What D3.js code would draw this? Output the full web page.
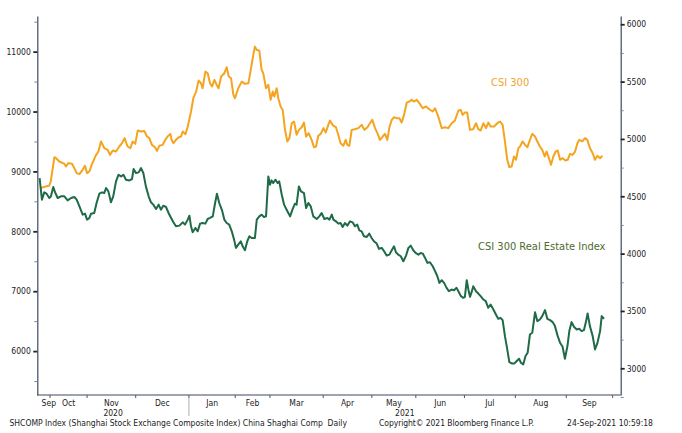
<!DOCTYPE html>
<html>
<head>
<meta charset="utf-8">
<script src="https://cdn.jsdelivr.net/npm/d3@7"></script>
<style>
  body { margin: 0; background: #fff; }
  svg text { font-family: "DejaVu Sans Condensed", "DejaVu Sans", sans-serif; font-stretch: condensed; white-space: pre; }
</style>
</head>
<body>
<svg id="chart"></svg>
<script>
// x axis: trading days, Sep 24 2020 = day 0
const monthNames = ["Sep", "Oct", "Nov", "Dec", "Jan", "Feb", "Mar", "Apr", "May", "Jun", "Jul", "Aug", "Sep"];
const monthTradingDays = [5, 16, 21, 23, 20, 15, 23, 21, 19, 21, 22, 22, 20];
const yearNames = ["2020", "2021"];
const firstMonthOfYear = [0, 4];

const leftTicks = [6000, 7000, 8000, 9000, 10000, 11000];
const leftMinor = [5500, 6500, 7500, 8500, 9500, 10500, 11500];
const rightTicks = [3000, 3500, 4000, 4500, 5000, 5500, 6000];
const rightMinor = [2750, 3250, 3750, 4250, 4750, 5250, 5750];

// CSI 300 (right axis)
const csiDay = [0.2,4.2,4.8,6.4,7.1,8.5,10.7,11.4,12.4,14.0,15.0,16.0,17.2,18.6,19.6,20.5,21.5,22.6,24.4,25.4,26.5,28.0,29.4,30.4,31.6,33.0,34.4,35.6,36.7,38.0,39.2,40.2,41.3,42.4,43.8,45.2,46.4,47.4,48.5,49.8,50.7,51.7,53.1,54.3,55.3,56.5,57.0,57.8,58.9,60.1,61.1,61.8,63.0,64.0,65.4,66.4,67.6,68.7,69.7,70.4,71.6,72.6,73.6,74.5,75.5,76.5,77.3,78.4,79.8,80.8,81.7,82.7,83.7,84.4,85.8,87.3,88.7,90.2,91.2,92.3,93.0,93.8,94.9,95.9,96.6,97.8,98.8,99.8,100.7,101.4,102.4,103.1,104.1,105.0,106.0,107.0,107.9,108.9,109.9,111.0,112.0,113.2,114.2,115.1,116.2,117.5,118.5,119.4,120.4,121.4,122.6,123.6,124.7,125.4,126.9,128.0,129.0,130.0,131.2,132.2,132.9,133.8,134.8,136.2,137.7,139.1,140.3,141.6,142.7,143.7,144.9,145.9,147.0,148.2,149.2,150.2,151.1,152.1,153.1,154.2,155.4,156.4,157.4,158.6,159.7,160.7,161.7,162.9,164.0,165.5,166.9,168.3,169.8,170.8,172.2,173.7,175.1,176.5,178.0,179.4,180.9,181.9,182.7,183.7,184.7,185.9,187.3,188.5,189.5,190.5,191.7,192.8,193.8,194.8,196.3,197.7,198.9,200.0,201.0,202.0,202.9,203.9,204.9,205.8,206.8,207.5,208.6,209.7,210.7,211.8,212.8,214.0,215.0,216.1,217.1,218.2,219.0,220.0,220.9,221.9,222.9,223.8,224.8,225.9,227.1,228.1,229.1,230.2,231.3,232.3,233.1,234.4,235.6,236.6,237.7,238.9,239.9,240.9,242.1,243.1];
const csiClose = [4571,4594,4629,4841,4832,4803,4783,4760,4789,4783,4745,4702,4693,4731,4766,4702,4716,4780,4861,4890,4978,4919,4905,4861,4899,4890,4934,4963,5007,4934,4920,4978,4957,5073,5065,5070,5021,5007,4948,4928,4896,4940,4948,4992,5021,5044,4992,4963,4992,5015,5021,5065,5041,5108,5239,5355,5413,5509,5486,5442,5587,5573,5486,5457,5515,5471,5442,5544,5573,5625,5544,5529,5384,5355,5442,5500,5480,5486,5602,5733,5805,5776,5770,5602,5573,5442,5471,5341,5413,5370,5442,5355,5282,5253,5079,4978,5007,5137,5152,5036,5079,5102,5143,5021,5050,4992,4928,4934,5027,5044,5094,5056,5123,5160,5114,5102,5036,4963,4940,4992,4948,4940,5079,5085,5094,5123,5079,5102,5137,5166,5094,5050,4992,5021,5044,4992,5102,5166,5189,5181,5181,5143,5210,5317,5326,5341,5326,5341,5312,5268,5283,5259,5239,5268,5195,5094,5102,5094,5137,5161,5248,5253,5210,5230,5230,5079,5085,5137,5085,5073,5137,5094,5143,5108,5108,5137,5152,5123,4978,4818,4754,4760,4847,4818,4920,4934,4978,4948,4928,4992,5044,5021,4978,4934,4905,4847,4890,4832,4774,4847,4890,4899,4818,4832,4812,4818,4870,4861,4890,4963,4992,4978,5007,4992,4920,4876,4818,4853,4832,4853];

// CSI 300 Real Estate Index (left axis)
const reDay = [0,1.0,2.0,3.0,4.2,4.9,5.9,6.8,7.8,9.2,10.7,12.1,13.6,15.0,16.0,17.2,18.6,19.6,20.5,21.5,22.2,23.6,24.6,25.8,26.9,27.9,28.7,29.7,30.8,31.8,33.0,34.1,35.2,36.2,37.3,38.8,39.9,40.6,41.6,42.8,43.8,44.8,45.9,47.1,48.1,49.1,50.3,51.4,52.4,53.4,54.6,55.7,56.8,57.8,58.9,60.4,61.8,62.8,64.0,64.7,65.4,66.1,67.3,68.3,69.3,70.4,71.6,72.6,73.6,74.8,75.8,76.6,77.6,78.8,79.8,80.8,81.9,83.0,84.0,84.8,85.8,86.9,87.7,88.7,89.7,90.6,91.6,93.0,93.8,94.9,95.9,96.9,97.8,98.8,99.5,100.2,100.9,101.9,102.8,103.5,104.6,105.6,106.7,108.2,109.2,110.3,111.0,112.0,112.9,114.2,115.1,116.1,117.1,118.2,119.7,120.8,121.8,123.0,124.3,125.2,126.2,126.9,128.0,129.0,130.0,130.9,131.9,132.9,134.1,135.2,136.2,137.2,138.1,139.1,140.1,141.3,142.4,143.4,144.4,145.6,146.6,147.8,148.8,149.9,151.1,152.1,153.1,153.9,154.9,156.0,157.1,158.3,159.3,160.3,161.4,162.4,163.6,164.6,165.5,166.5,167.5,168.6,169.8,170.8,171.8,172.7,173.7,174.7,175.8,176.8,178.0,179.0,180.1,181.1,182.0,183.0,183.7,184.5,185.2,185.9,186.6,187.3,188.5,189.5,190.5,191.7,192.7,193.8,194.8,196.0,197.1,198.1,199.1,200.0,201.0,202.0,202.9,203.9,205.1,206.1,207.1,207.9,208.9,209.9,210.8,211.8,212.8,214.0,215.0,216.1,217.1,218.3,219.3,220.5,221.6,222.6,223.8,224.8,225.9,226.9,228.0,228.8,229.8,230.8,232.0,233.1,234.1,235.1,235.9,236.7,237.7,238.9,239.9,240.9,242.1,242.8,243.8];
const reClose = [8889,8528,8650,8628,8556,8584,8739,8639,8556,8584,8584,8517,8556,8573,8528,8417,8278,8295,8195,8223,8295,8306,8473,8628,8650,8639,8723,8667,8484,8584,8834,8945,8917,8945,8862,8850,8873,9039,8973,8984,9056,8973,8750,8584,8484,8445,8373,8445,8361,8428,8406,8306,8223,8150,8084,8095,8150,8112,8195,8261,8084,7984,8056,8000,8128,8139,8128,8206,8223,8250,8473,8628,8473,8350,8195,8139,8112,8000,7861,7723,7778,7834,7750,7684,7834,7917,7889,7889,8195,8250,8278,8239,8250,8917,8778,8850,8806,8862,8806,8834,8611,8445,8361,8250,8361,8461,8445,8750,8667,8639,8389,8473,8417,8250,8206,8250,8306,8206,8223,8195,8278,8195,8167,8128,8139,8073,8139,8095,8167,8150,8084,8112,8017,8000,7917,7906,7961,7889,7834,7795,7706,7723,7667,7595,7611,7684,7750,7650,7611,7584,7500,7595,7723,7761,7684,7639,7611,7639,7628,7556,7473,7484,7417,7334,7250,7139,7184,7139,7056,7000,7028,7017,7056,6984,6917,6889,6906,7184,7028,6906,6984,7084,7000,6961,6917,6861,6834,6723,6778,6695,6612,6539,6556,6517,6250,6028,5817,5795,5795,5834,5873,5806,5778,5917,5972,6278,6306,6650,6500,6528,6584,6684,6539,6517,6484,6417,6250,6139,6072,5873,6084,6334,6484,6406,6361,6372,6334,6350,6472,6628,6417,6250,6028,6128,6334,6584,6539];

const footerLeft = "SHCOMP Index (Shanghai Stock Exchange Composite Index) China Shaghai Comp  Daily";
const footerMid = "Copyright\u00a9 2021 Bloomberg Finance L.P.";
const footerRight = "24-Sep-2021 10:59:18";

const width = 682, height = 433;
const margin = { top: 16, bottom: 38, left: 37.3, right: 61.3 };
const orange = "#f4a41f", green = "#1f6a47", axisColor = "#3d4a62";

const svg = d3.select("#chart").attr("width", width).attr("height", height);

const xScale = d3.scaleLinear().domain([-1, 251]).range([margin.left, width - margin.right]);
const yLeft = d3.scaleLinear().domain([5267, 11595]).range([height - margin.bottom, margin.top]);
const yRight = d3.scaleLinear().domain([2767, 6072]).range([height - margin.bottom, margin.top]);
const baseY = height - margin.bottom;
const fmt = d3.format("d");

// left axis
const leftG = svg.append("g").attr("transform", `translate(${margin.left},0)`)
  .call(d3.axisLeft(yLeft).tickValues(leftTicks).tickFormat(fmt).tickSize(4).tickSizeOuter(0).tickPadding(2.5));
svg.append("g").attr("transform", `translate(${margin.left},0)`)
  .call(d3.axisLeft(yLeft).tickValues(leftMinor).tickSize(3).tickSizeOuter(0).tickFormat(""))
  .call(g => g.select(".domain").remove())
  .call(g => g.selectAll("line").attr("stroke", "#7c869a"));

// right axis
const rightG = svg.append("g").attr("transform", `translate(${width - margin.right},0)`)
  .call(d3.axisRight(yRight).tickValues(rightTicks).tickFormat(fmt).tickSize(4).tickSizeOuter(0).tickPadding(2));
svg.append("g").attr("transform", `translate(${width - margin.right},0)`)
  .call(d3.axisRight(yRight).tickValues(rightMinor).tickSize(3).tickSizeOuter(0).tickFormat(""))
  .call(g => g.select(".domain").remove())
  .call(g => g.selectAll("line").attr("stroke", "#7c869a"));

[leftG, rightG].forEach(g => {
  g.select(".domain").attr("stroke", axisColor).attr("stroke-width", 1.2);
  g.selectAll(".tick line").attr("stroke", "#1c2535").attr("stroke-width", 1.8);
  g.selectAll(".tick text").attr("font-size", 8.5).attr("fill", "#222");
});

// bottom axis: month boundaries in trading days
const bounds = [];
let cum = 0;
monthTradingDays.forEach(n => { bounds.push(cum - 0.5); cum += n; });
bounds.push(cum - 0.5);

const xAxisG = svg.append("g");
xAxisG.append("line")
  .attr("x1", margin.left).attr("x2", width - margin.right)
  .attr("y1", baseY).attr("y2", baseY)
  .attr("stroke", axisColor).attr("stroke-width", 1.2);

xAxisG.selectAll(".mtick")
  .data(bounds.slice(1))
  .enter().append("line")
  .attr("x1", d => xScale(d)).attr("x2", d => xScale(d))
  .attr("y1", baseY).attr("y2", baseY + 3)
  .attr("stroke", "#555").attr("stroke-width", 1);

xAxisG.selectAll(".mlabel")
  .data(monthNames)
  .enter().append("text")
  .attr("x", (d, i) => Math.max((xScale(Math.max(bounds[i], -1)) + xScale(bounds[i + 1])) / 2, margin.left + 11.5))
  .attr("y", baseY + 11)
  .attr("text-anchor", "middle")
  .attr("font-size", 8.5)
  .attr("fill", "#222")
  .text(d => d);

const yearEdges = [xScale(-1), xScale(bounds[firstMonthOfYear[1]]), xScale(251)];
xAxisG.selectAll(".ylabel")
  .data(yearNames)
  .enter().append("text")
  .attr("x", (d, i) => (yearEdges[i] + yearEdges[i + 1]) / 2)
  .attr("y", baseY + 21)
  .attr("text-anchor", "middle")
  .attr("font-size", 8.5)
  .attr("fill", "#222")
  .text(d => d);

xAxisG.append("line")
  .attr("x1", yearEdges[1]).attr("x2", yearEdges[1])
  .attr("y1", baseY + 3).attr("y2", baseY + 21)
  .attr("stroke", "#999").attr("stroke-width", 0.8);

// lines
const csiLine = d3.line().x(d => xScale(d[0])).y(d => yRight(d[1]));
const reLine = d3.line().x(d => xScale(d[0])).y(d => yLeft(d[1]));

svg.append("path")
  .datum(csiDay.map((d, i) => [d, csiClose[i]]))
  .attr("d", csiLine)
  .attr("fill", "none").attr("stroke", orange).attr("stroke-width", 2)
  .attr("stroke-linejoin", "round");

svg.append("path")
  .datum(reDay.map((d, i) => [d, reClose[i]]))
  .attr("d", reLine)
  .attr("fill", "none").attr("stroke", green).attr("stroke-width", 2)
  .attr("stroke-linejoin", "round");

// series labels
svg.append("text")
  .attr("x", xScale(195)).attr("y", yRight(5463))
  .attr("font-size", 11).attr("fill", "#f0a530")
  .text("CSI 300");
svg.append("text")
  .attr("x", xScale(189.4)).attr("y", yLeft(7695))
  .attr("font-size", 11).attr("fill", "#4c6a30")
  .text("CSI 300 Real Estate Index");

// footer
const footer = svg.append("g").attr("font-size", 8.5).attr("fill", "#222");
footer.append("text").attr("x", 9.5).attr("y", 426).text(footerLeft);
footer.append("text").attr("x", 379).attr("y", 426).attr("textLength", 155).text(footerMid);
footer.append("text").attr("x", 653).attr("y", 426).attr("text-anchor", "end").text(footerRight);
</script>
</body>
</html>
